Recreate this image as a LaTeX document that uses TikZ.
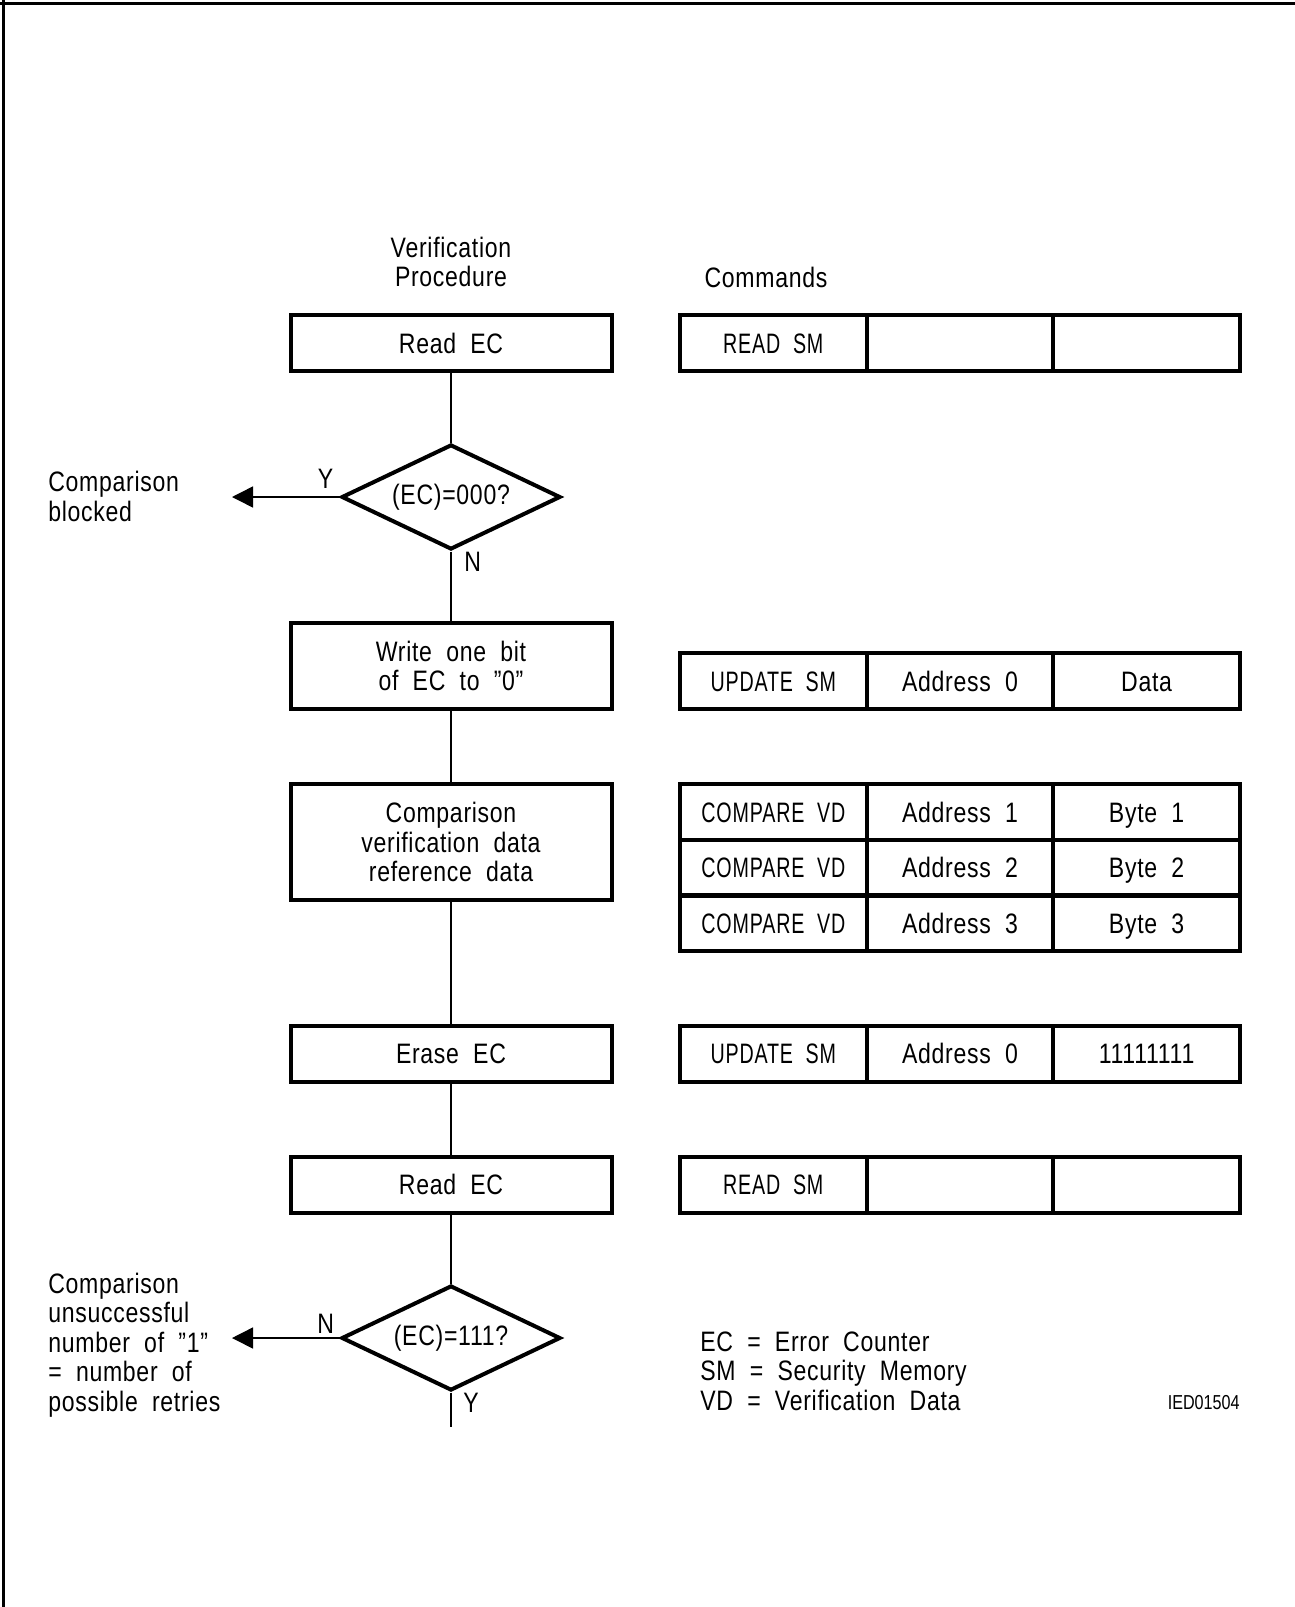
\documentclass[tikz,border=0pt]{standalone}
\usepackage{fontspec}
\setmainfont{Liberation Sans}[FakeStretch=0.82,WordSpace=2,LetterSpace=2.5]
\newfontfamily\capsfont{Liberation Sans}[FakeStretch=0.7,WordSpace=2,LetterSpace=3]
\newfontfamily\idfont{Liberation Sans}[FakeStretch=0.8]
\usetikzlibrary{shapes.geometric,positioning,arrows.meta}

\newcommand{\txtsize}{\fontsize{16}{16.8}\selectfont}

\tikzset{
  txt/.style={inner sep=0pt, font=\txtsize},
  proc/.style={draw, line width=0.8mm, minimum width=64.2mm, inner sep=0pt,
    align=center, font=\txtsize},
  test/.style={diamond, draw, line width=0.8mm, aspect=2, minimum width=43.8mm,
    minimum height=21mm, inner sep=0pt, font=\txtsize},
  cell/.style={draw, line width=0.8mm, outer sep=0pt, inner sep=0pt,
    minimum width=37.33mm, minimum height=11.2mm, text height=11.5pt,
    text depth=0pt, font=\txtsize},
  cmd/.style={cell, font=\capsfont\txtsize},
  flow/.style={line width=0.3mm},
  exit/.style={flow, -{Triangle[length=4.2mm,width=4.2mm]}}
}

\begin{document}
\begin{tikzpicture}[x=0.2mm,y=-0.2mm]
  \useasboundingbox (0,0) rectangle (1295,1607);

  %frame
  \draw[line width=0.6mm] (0,4) -- (1295,4);
  \draw[line width=0.45mm] (3.5,0) -- (3.5,1607);

  %headings
  \node[txt, align=center] (prochead) at (451,262) {Verification\\Procedure};
  \node[txt] (cmdhead) at (766,277) {Commands};

  %procedure
  \node[proc, minimum height=11.2mm] (readec) at (451,343) {Read EC};
  \node[test] (ecnull) at (451,497) {(EC)=000?};
  \node[proc, minimum height=17.2mm] (writebit) at (451,666) {Write one bit\\of EC to ”0”};
  \node[proc, minimum height=23.2mm] (compare) at (451,842)
    {Comparison\\verification data\\reference data};
  \node[proc, minimum height=11.2mm] (eraseec) at (451,1053.5) {Erase EC};
  \node[proc, minimum height=11.2mm] (readagain) at (451,1184.5) {Read EC};
  \node[test] (ecfull) at (451,1338) {(EC)=111?};
  \coordinate (flowend) at (451,1427);
  \coordinate (blockend) at (232,497);
  \coordinate (retryend) at (232,1338);

  %connectors
  \draw[flow] (readec) -- (ecnull);
  \draw[flow] (ecnull) -- (writebit);
  \draw[flow] (writebit) -- (compare);
  \draw[flow] (compare) -- (eraseec);
  \draw[flow] (eraseec) -- (readagain);
  \draw[flow] (readagain) -- (ecfull);
  \draw[flow] (ecfull) -- (flowend);
  \draw[exit] (ecnull.west) -- (blockend);
  \draw[exit] (ecfull.west) -- (retryend);

  % Y / N
  \node[txt, above left=1.6mm and 1.2mm of ecnull.west] (yes1) {Y};
  \node[txt, below right=0mm and 2.6mm of ecnull.south] (no1) {N};
  \node[txt, above left=0.8mm and 1mm of ecfull.west] (no2) {N};
  \node[txt, below right=0mm and 2.4mm of ecfull.south] (yes2) {Y};

  %outcomes
  \node[txt, align=left, anchor=west] (blocked) at (48,496.5) {Comparison\\blocked};
  \node[txt, align=left, anchor=west] (retries) at (48,1345)
    {Comparison\\unsuccessful\\number of ”1”\\= number of\\possible retries};

  %commands
  \node[cmd] (rdsm) at (773.3,343) {READ SM};
  \node[cell, right=0pt of rdsm] (rdsmb) {};
  \node[cell, right=0pt of rdsmb] (rdsmc) {};

  \node[cmd] (upsm) at (773.3,681) {UPDATE SM};
  \node[cell, right=0pt of upsm] (upsmb) {Address 0};
  \node[cell, right=0pt of upsmb] (upsmc) {Data};

  \foreach \i/\y in {1/812,2/867.7,3/923.4} {
    \node[cmd] (cmpvd\i) at (773.3,\y) {COMPARE VD};
    \node[cell, right=0pt of cmpvd\i] (cmpad\i) {Address \i};
    \node[cell, right=0pt of cmpad\i] (cmpby\i) {Byte \i};
  }

  \node[cmd] (erasm) at (773.3,1053.5) {UPDATE SM};
  \node[cell, right=0pt of erasm] (erasmb) {Address 0};
  \node[cell, right=0pt of erasmb] (erasmc) {11111111};

  \node[cmd] (rdsm2) at (773.3,1184.5) {READ SM};
  \node[cell, right=0pt of rdsm2] (rdsm2b) {};
  \node[cell, right=0pt of rdsm2b] (rdsm2c) {};

  %legend
  \node[txt, align=left, anchor=west] (legend) at (700,1371)
    {EC = Error Counter\\SM = Security Memory\\VD = Verification Data};
  \node[inner sep=0pt, anchor=east, font=\idfont\fontsize{11.5}{12}\selectfont]
    (docid) at (1240,1403) {IED01504};

\end{tikzpicture}
\end{document}
